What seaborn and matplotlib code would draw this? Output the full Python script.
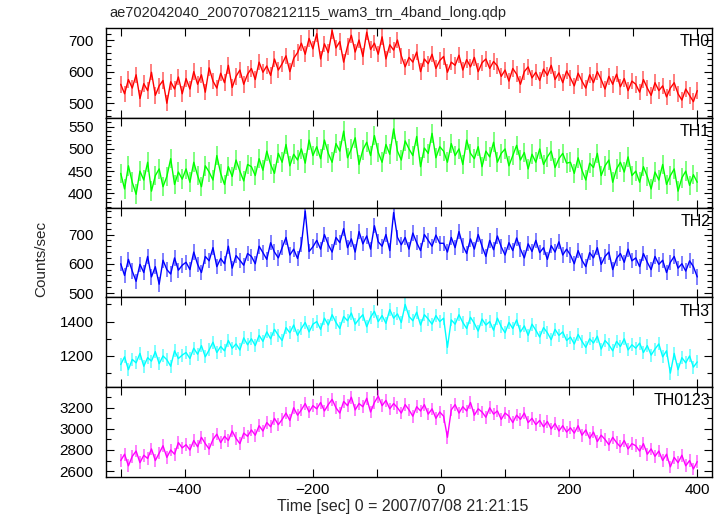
import numpy as np
import pandas as pd
import matplotlib
matplotlib.use("Agg")
import matplotlib.pyplot as plt
from matplotlib.ticker import MultipleLocator
import seaborn as sns

# ---------------- data ----------------
t_start = -500      # first time bin [sec]
t_step = 6          # bin width [sec]

th0 = [560, 530, 575, 548, 590, 515, 562, 540, 598, 525, 555, 572, 500, 568, 545, 583, 530,
       578, 545, 600, 560, 590, 535, 612, 570, 548, 595, 565, 620, 550, 585, 605, 560, 592,
       610, 575, 630, 598, 618, 588, 640, 605, 625, 650, 600, 642, 660,
       690, 655, 705, 672, 720, 640, 688, 660, 730, 675, 695, 630, 680, 715, 662, 700, 648,
       725, 670, 690, 655, 710, 640, 685, 668, 700,
       650, 615, 645, 630, 662, 600, 640, 625, 655, 610, 635, 648, 598, 630, 620, 652, 605,
       638, 615, 645, 600, 628, 640, 610, 632, 618,
       585, 605, 570, 610, 592, 560, 600, 615, 580, 598, 572, 608, 588, 620, 575, 596, 565, 602,
       580, 555, 595, 570, 548, 590, 565, 600, 575, 545, 585, 560, 592, 552, 578, 540, 570,
       560, 535, 575, 548, 525, 565, 540, 555, 520, 548, 565, 530, 510, 545, 525, 505, 540]

th1 = [445, 410, 462, 425, 398, 450, 430, 470, 405, 440, 455, 415, 438, 478, 420, 448, 432,
       455, 425, 470, 440, 415, 462, 448, 430, 485, 445, 420, 460, 438, 475, 450, 428, 465,
       460, 440, 478, 452, 495, 465, 445, 490, 470, 510, 462, 488, 475, 500, 468, 520, 485,
       505, 478, 520, 490, 470, 512, 495, 540, 480, 500, 525, 465, 498, 515, 485, 530, 492,
       470, 510, 488, 545, 495, 475, 518, 500, 485, 528, 460, 502, 490, 535, 480, 505,
       495, 470, 512, 485, 500, 465, 520, 490, 478, 505, 460, 495, 482, 515, 470, 490, 500,
       462, 485, 508, 475, 492, 455, 488, 470, 500, 465, 482, 495, 458, 478, 490, 468,
       470, 445, 480, 452, 430, 468, 458, 490, 440, 462, 475, 425, 455, 470, 448, 482, 440,
       450, 425, 460, 438, 410, 448, 430, 465, 420, 440, 455, 405, 435, 450, 418, 442, 425]

th2 = [600, 560, 615, 575, 540, 598, 570, 625, 555, 590, 530, 612, 580, 565, 620, 578, 595,
       605, 580, 640, 598, 570, 625, 610, 655, 590, 618, 600, 660, 585, 628, 612, 595, 635,
       625, 600, 660, 638, 615, 672, 640, 620, 655, 690, 630, 650, 618, 665, 780, 642, 658,
       680, 650, 700, 665, 640, 690, 672, 720, 655, 685, 640, 710, 668, 695, 650, 730, 675,
       660, 700, 645, 775, 690, 665, 690, 650, 705, 672, 645, 700, 680, 660, 698, 670,
       670, 640, 690, 655, 710, 662, 635, 685, 650, 700, 660, 625, 680, 648, 695, 658, 630,
       672, 645, 688, 650, 620, 668, 642, 680, 638, 655, 615, 662, 640, 675, 630, 650,
       630, 600, 645, 612, 590, 638, 620, 655, 598, 625, 640, 580, 618, 635, 605, 650, 610,
       620, 590, 635, 605, 580, 625, 598, 612, 570, 605, 625, 585, 600, 575, 610, 590, 555]

th3 = [1150, 1195, 1120, 1180, 1160, 1215, 1140, 1190, 1170, 1225, 1155, 1200, 1178, 1140,
       1230, 1185, 1205,
       1220, 1185, 1245, 1210, 1260, 1195, 1235, 1280, 1220, 1255, 1230, 1290, 1245, 1270,
       1235, 1305, 1265,
       1300, 1260, 1320, 1285, 1340, 1300, 1355, 1320, 1290, 1365, 1335, 1380, 1320, 1360,
       1395, 1340, 1385,
       1400, 1355, 1420, 1380, 1440, 1395, 1360, 1430, 1405, 1450, 1385, 1415, 1440, 1370,
       1425, 1460, 1400, 1435, 1390, 1470, 1420, 1445, 1395, 1500, 1430, 1405, 1455, 1380,
       1440, 1415, 1385, 1435, 1400,
       1420, 1250, 1410, 1385, 1440, 1395, 1360, 1425, 1390, 1345, 1415, 1380, 1400, 1350,
       1420, 1370, 1335, 1395, 1360, 1410, 1340, 1375, 1320, 1385, 1350, 1310, 1365, 1335,
       1295, 1355, 1320, 1340, 1290,
       1310, 1270, 1325, 1285, 1250, 1300, 1275, 1315, 1240, 1290, 1265, 1230, 1285, 1255,
       1300, 1235, 1265,
       1245, 1275, 1220, 1260, 1205, 1240, 1270, 1195, 1230, 1100, 1215, 1120, 1190, 1160,
       1200, 1135, 1165]

th0123 = [2700, 2760, 2650, 2740, 2790, 2680, 2750, 2720, 2810, 2700, 2770, 2840, 2730, 2800,
          2760, 2870, 2820,
          2850, 2800, 2890, 2830, 2920, 2860, 2810, 2900, 2950, 2870, 2930, 2890, 2980, 2910,
          2860, 2960, 2930,
          2990, 2940, 3030, 2980, 3060, 3020, 3100, 3040, 3090, 3150, 3080, 3200, 3130, 3180,
          3240, 3160, 3220,
          3190, 3250, 3170, 3230, 3280, 3200, 3150, 3260, 3220, 3300, 3180, 3240, 3210, 3290,
          3160, 3250, 3310, 3220, 3270, 3190, 3240, 3200, 3150, 3230, 3180, 3120, 3210, 3170,
          3230, 3140, 3190, 3100, 3160,
          3120, 2920, 3180, 3230, 3150, 3210, 3170, 3250, 3130, 3190, 3160, 3110, 3200, 3140,
          3170, 3090, 3150, 3120, 3060, 3130, 3090, 3150, 3060, 3100, 3040, 3080, 3020, 3070,
          3000, 3050, 2980, 3030, 2970,
          3010, 2960, 3030, 2940, 2990, 2910, 2970, 2880, 2940, 2900, 2850, 2920, 2870, 2830,
          2890, 2810, 2860,
          2840, 2790, 2860, 2760, 2810, 2740, 2790, 2700, 2760, 2640, 2730, 2680, 2750, 2650,
          2700, 2620, 2690]

band_names = ["TH0", "TH1", "TH2", "TH3", "TH0123"]
band_values = [th0, th1, th2, th3, th0123]
band_errors = [26, 22, 26, 38, 60]          # typical 1-sigma error bar per band
band_colors = ["#ff0000", "#00ff00", "#0000ff", "#00ffff", "#ff00ff"]
band_ylims = [(454, 738), (368, 570), (485, 792), (1018, 1541), (2544, 3395)]
band_major = [100, 50, 100, 200, 200]
band_minor = [20, 10, 20, 100, 100]

title_text = "ae702042040_20070708212115_wam3_trn_4band_long.qdp"
xlabel_text = "Time [sec] 0 = 2007/07/08 21:21:15"
ylabel_text = "Counts/sec"

# ---------------- drawing ----------------
sns.set_theme(style="ticks")
plt.rcParams["font.family"] = ["Liberation Sans", "DejaVu Sans"]
plt.rcParams["font.size"] = 11

W, H = 724, 516
fig = plt.figure(figsize=(W / 100, H / 100), dpi=100)
fig.patch.set_facecolor("white")

left_px, right_px = 106, 712
top_px, bottom_px = 28, 477
n = len(band_names)
ph = (bottom_px - top_px) / n

times = t_start + t_step * np.arange(len(th0))

axes = []
for i in range(n):
    y0 = bottom_px - (n - i - 1) * ph - ph
    ax = fig.add_axes([left_px / W, 1 - (y0 + ph) / H, (right_px - left_px) / W, ph / H])
    axes.append(ax)
    df = pd.DataFrame({"time": times, "rate": band_values[i]})
    err = band_errors[i]
    ax.vlines(df["time"], df["rate"] - err, df["rate"] + err,
              colors=band_colors[i], alpha=0.5, lw=1.4, zorder=1)
    sns.lineplot(data=df, x="time", y="rate", ax=ax, color=band_colors[i],
                 lw=1.0, zorder=2, legend=False)
    ax.set_xlim(-523, 423)
    ax.set_ylim(*band_ylims[i])
    ax.set_xlabel("")
    ax.set_ylabel("")
    ax.xaxis.set_major_locator(MultipleLocator(200))
    ax.xaxis.set_minor_locator(MultipleLocator(100))
    ax.yaxis.set_major_locator(MultipleLocator(band_major[i]))
    ax.yaxis.set_minor_locator(MultipleLocator(band_minor[i]))
    ax.tick_params(axis="both", which="both", direction="in", top=True, right=True,
                   colors="black", width=0.8)
    ax.tick_params(axis="y", which="major", length=6, pad=9, labelsize=11)
    ax.tick_params(axis="y", which="minor", length=3.5)
    ax.tick_params(axis="x", which="both", length=6, pad=4, labelsize=11)
    for s in ax.spines.values():
        s.set_color("black")
        s.set_linewidth(1.0)
    ax.set_facecolor("white")
    ax.grid(False)
    if i < n - 1:
        ax.tick_params(axis="x", labelbottom=False)
    ax.text(0.997, 0.93, band_names[i], transform=ax.transAxes, ha="right", va="top",
            fontsize=11.5, color="black")

fig.text(109 / W, 1 - 13 / H, title_text, ha="left", va="center", fontsize=10.5)
fig.text(403 / W, 1 - 507 / H, xlabel_text, ha="center", va="center", fontsize=11.5)
fig.text(41 / W, 1 - 259 / H, ylabel_text, ha="center", va="center", rotation=90, fontsize=11)

fig.savefig("out.png", dpi=100, facecolor="white")
